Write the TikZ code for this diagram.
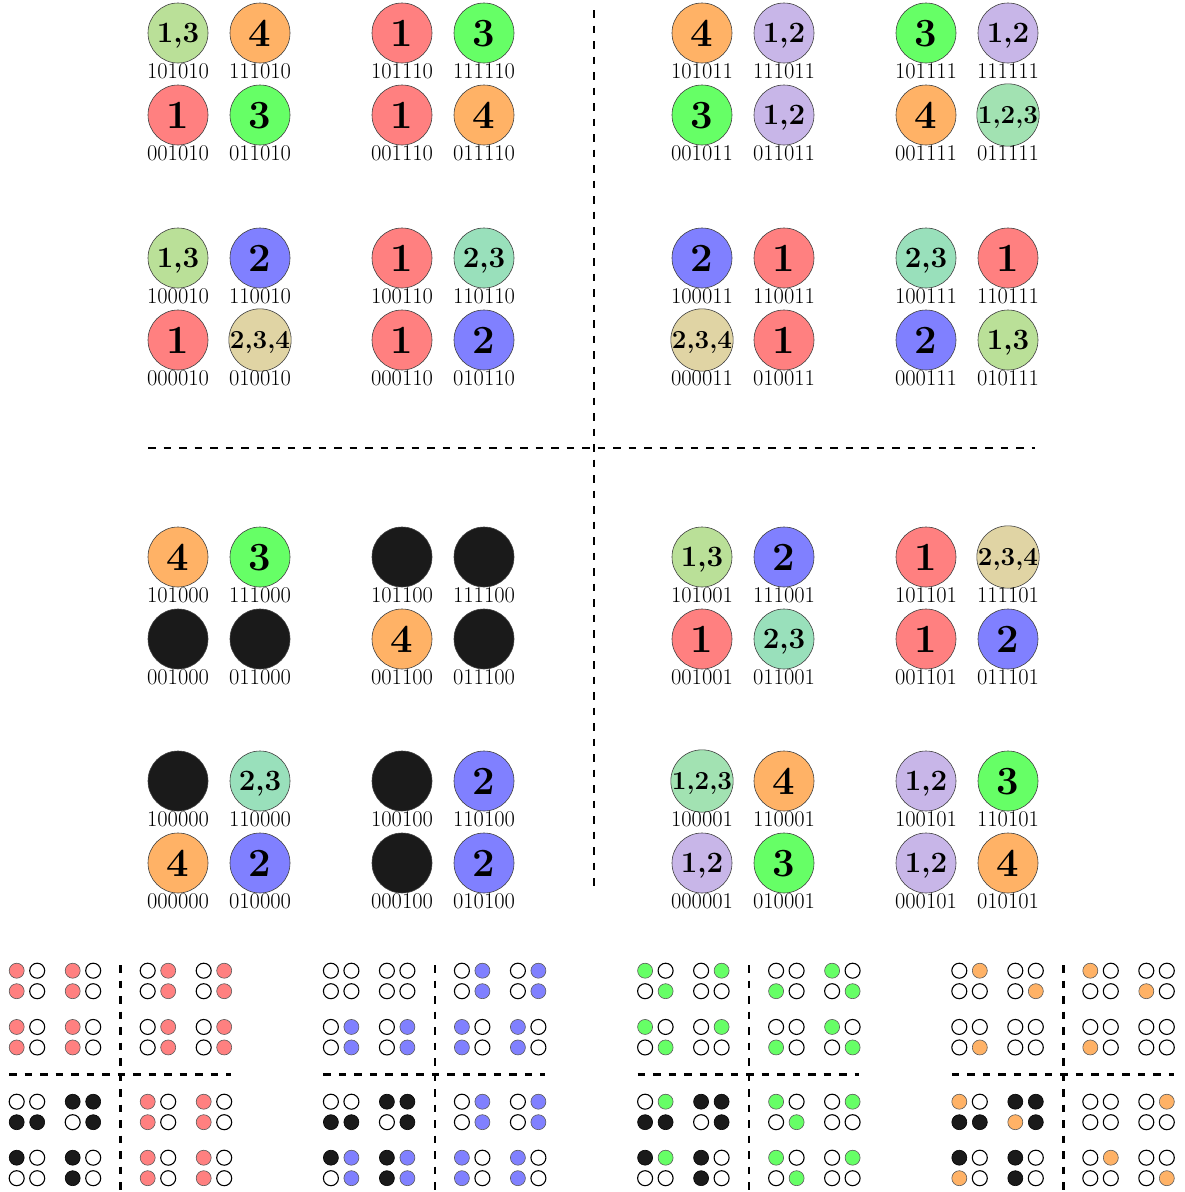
\documentclass[tikz,border=0pt]{standalone}
\usepackage{fontspec}
\definecolor{cA}{RGB}{255,128,128}
\definecolor{cB}{RGB}{128,128,255}
\definecolor{cC}{RGB}{102,255,102}
\definecolor{cD}{RGB}{255,178,102}
\definecolor{cE}{RGB}{186,224,152}
\definecolor{cF}{RGB}{200,182,232}
\definecolor{cG}{RGB}{153,224,187}
\definecolor{cH}{RGB}{162,226,178}
\definecolor{cI}{RGB}{224,212,164}
\definecolor{cK}{RGB}{26,26,26}
\newcommand\fone{\fontsize{40}{40}\selectfont\bfseries}
\newcommand\ftwo{\fontsize{29.5}{29.5}\selectfont\bfseries}
\newcommand\fthree{\fontsize{26}{26}\selectfont\bfseries}
\def\txA{\fone 1}\def\txB{\fone 2}\def\txC{\fone 3}\def\txD{\fone 4}
\def\txE{\ftwo 1,3}\def\txF{\ftwo 1,2}\def\txG{\ftwo 2,3}
\def\txH{\fthree 1,2,3}\def\txI{\fthree 2,3,4}\def\txK{}
\def\mbA{1000}\def\mbB{0100}\def\mbC{0010}\def\mbD{0001}
\def\mbE{1010}\def\mbF{1100}\def\mbG{0110}\def\mbH{1110}\def\mbI{0111}\def\mbK{KKKK}
\def\nthof#1#2#3#4#5{\ifcase#1\or#2\or#3\or#4\or#5\fi}
\def\colof#1{\ifcase#1\or cA\or cB\or cC\or cD\fi}
\def\cells{178/33/E/101010, 260/33/D/111010, 178/115/A/001010, 260/115/C/011010,
402/33/A/101110, 484/33/C/111110, 402/115/A/001110, 484/115/D/011110,
178/258/E/100010, 260/258/B/110010, 178/340/A/000010, 260/340/I/010010,
402/258/A/100110, 484/258/G/110110, 402/340/A/000110, 484/340/B/010110,
702/33/D/101011, 784/33/F/111011, 702/115/C/001011, 784/115/F/011011,
926/33/C/101111, 1008/33/F/111111, 926/115/D/001111, 1008/115/H/011111,
702/258/B/100011, 784/258/A/110011, 702/340/I/000011, 784/340/A/010011,
926/258/G/100111, 1008/258/A/110111, 926/340/B/000111, 1008/340/E/010111,
178/557/D/101000, 260/557/C/111000, 178/639/K/001000, 260/639/K/011000,
402/557/K/101100, 484/557/K/111100, 402/639/D/001100, 484/639/K/011100,
178/781/K/100000, 260/781/G/110000, 178/863/D/000000, 260/863/B/010000,
402/781/K/100100, 484/781/B/110100, 402/863/K/000100, 484/863/B/010100,
702/557/E/101001, 784/557/B/111001, 702/639/A/001001, 784/639/G/011001,
926/557/A/101101, 1008/557/I/111101, 926/639/A/001101, 1008/639/B/011101,
702/781/H/100001, 784/781/D/110001, 702/863/F/000001, 784/863/C/010001,
926/781/F/100101, 1008/781/C/110101, 926/863/F/000101, 1008/863/D/010101}
\tikzset{
  bigc/.style={circle, draw=black!75, line width=0.6pt, minimum size=60pt, inner sep=0pt, text depth=0pt},
  binlab/.style={inner sep=0pt, font=\fontsize{22.5}{22.5}\selectfont},
  smallc/.style={circle, minimum size=15pt, inner sep=0pt},
  divider/.style={line width=2.9pt, dash pattern=on 7.5pt off 8pt},
  sdivider/.style={line width=2.6pt, dash pattern=on 7.5pt off 8pt}
}
\begin{document}
\begin{tikzpicture}[x=1pt,y=-1pt]
\useasboundingbox (0,0) rectangle (1184,1192);
% big grid
\foreach \x/\y/\k/\l in \cells {
  \edef\fc{c\k}
  \node[bigc, fill=\fc] (n\l) at (\x,\y) {\csname tx\k\endcsname};
  \node[binlab] (l\l) at (\x,\y+38) {\l};
}
\coordinate (vtop) at (594,10);
\coordinate (vbot) at (594,893);
\coordinate (hleft) at (148,448);
\coordinate (hright) at (1035,448);
\draw[divider] (vtop) -- (vbot);
\draw[divider] (hleft) -- (hright);
% small grids
\foreach \n in {1,2,3,4} {
  \pgfmathsetmacro\ox{16.7+314.2*(\n-1)}
  \edef\curcol{\colof{\n}}
  \foreach \x/\y/\k/\l in \cells {
    \pgfmathsetmacro\sx{\ox+(\x-178)*0.25}
    \pgfmathsetmacro\sy{970.7+(\y-33)*0.25}
    \edef\mm{\csname mb\k\endcsname}
    \edef\bitA{\noexpand\nthof{\n}\mm}
    \edef\bitb{\bitA}
    \if\bitb1\edef\sfill{\curcol}\def\sdraw{black!65}\def\slw{0.6pt}\else
      \if\bitb K\def\sfill{cK}\def\sdraw{black}\def\slw{0.6pt}\else
        \def\sfill{white}\def\sdraw{black}\def\slw{1.1pt}\fi\fi
    \node[smallc, fill=\sfill, draw=\sdraw, line width=\slw] (s\n-\l) at (\sx,\sy) {};
  }
  \coordinate (sv\n top) at (\ox+104,965);
  \coordinate (sv\n bot) at (\ox+104,1190);
  \coordinate (sh\n left) at (\ox-7.5,1074.5);
  \coordinate (sh\n right) at (\ox+214.3,1074.5);
  \draw[sdivider] (sv\n top) -- (sv\n bot);
  \draw[sdivider] (sh\n left) -- (sh\n right);
}
\end{tikzpicture}
\end{document}
